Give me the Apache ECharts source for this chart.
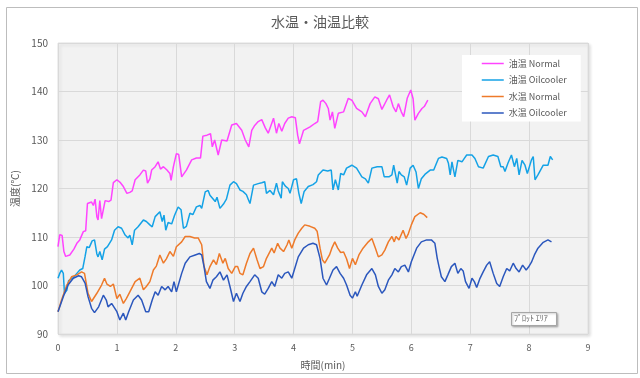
<!DOCTYPE html>
<html><head><meta charset="utf-8">
<script src="https://cdn.jsdelivr.net/npm/echarts@6/dist/echarts.min.js"></script>
<style>html,body{margin:0;padding:0;background:#fff}#c{width:640px;height:378px}</style>
</head><body><div id="c"></div>
<script>
const titleText = '水温・油温比較';
const seriesNames = ['油温 Normal', '油温 Oilcooler', '水温 Normal', '水温 Oilcooler'];
const xTicks = [0, 1, 2, 3, 4, 5, 6, 7, 8, 9];
const yTicks = [90, 100, 110, 120, 130, 140, 150];

// [time(min), temperature(℃)]
const oilNormal = [[0,108],[0.03,110.5],[0.07,110.3],[0.10,107],[0.13,106],[0.20,106.3],[0.27,107.5],[0.32,108.7],[0.37,109.4],[0.43,111.1],[0.47,111.3],[0.50,116.9],[0.57,117.2],[0.60,116.5],[0.63,117.8],[0.66,114.2],[0.68,113.5],[0.71,117.5],[0.74,113.8],[0.80,117.5],[0.86,117.3],[0.90,117.6],[0.94,121.2],[1.00,121.8],[1.06,121.2],[1.11,120.4],[1.17,119],[1.22,119.2],[1.26,119.5],[1.31,121.8],[1.39,122.8],[1.45,123.8],[1.49,123.6],[1.52,121.1],[1.56,122],[1.59,123.8],[1.65,124.5],[1.70,125.5],[1.74,124],[1.79,124.5],[1.85,123.8],[1.90,123.1],[1.92,121.7],[1.96,124.5],[2.01,127.2],[2.05,127],[2.10,122.4],[2.18,123.8],[2.27,125.9],[2.35,126.3],[2.42,126.3],[2.46,130.8],[2.53,131],[2.59,131.3],[2.62,128.6],[2.66,130],[2.72,126.9],[2.78,130],[2.87,129.8],[2.95,133.1],[3.03,133.4],[3.12,132],[3.18,130],[3.24,128.6],[3.29,132],[3.34,133],[3.40,133.8],[3.46,134.2],[3.52,132.5],[3.57,131.4],[3.66,134.5],[3.71,131.4],[3.75,133.4],[3.80,131.8],[3.85,133.4],[3.91,134.5],[3.97,134.8],[4.03,134.6],[4.07,131],[4.10,129.2],[4.17,132],[4.28,132.7],[4.36,133.4],[4.41,133.8],[4.46,137.9],[4.50,138.2],[4.55,137.5],[4.59,136.5],[4.62,134.1],[4.66,135.8],[4.70,132.4],[4.76,135.5],[4.85,135.8],[4.93,138.6],[4.99,138.2],[5.07,136.5],[5.16,135.8],[5.22,134.8],[5.30,137.5],[5.38,138.9],[5.44,138.5],[5.50,136.3],[5.53,135.9],[5.58,138.2],[5.63,139.3],[5.69,136.9],[5.74,135.8],[5.78,137.5],[5.83,135.8],[5.87,134.8],[5.93,138.6],[5.99,140.3],[6.03,138.5],[6.06,134.1],[6.12,135.5],[6.18,136.5],[6.22,136.9],[6.28,138.2]];

const oilCooler = [[0,101.5],[0.03,102.5],[0.06,103.2],[0.09,102.5],[0.11,98.4],[0.15,99],[0.18,101],[0.25,101.5],[0.32,102.5],[0.37,103.2],[0.42,103.5],[0.46,106],[0.49,108],[0.53,107.8],[0.58,109.2],[0.62,109.4],[0.66,106.5],[0.68,105.9],[0.71,107],[0.75,105.3],[0.79,107.5],[0.84,108],[0.91,109.4],[0.96,111.4],[1.02,112.1],[1.08,111.8],[1.14,110.4],[1.19,109.8],[1.22,110.4],[1.26,108.4],[1.30,111.4],[1.36,112.1],[1.45,113.5],[1.50,113.2],[1.56,112.5],[1.60,112.1],[1.65,114.2],[1.73,115.2],[1.77,113.2],[1.80,114.5],[1.83,111.4],[1.87,113],[1.93,112.7],[1.98,114.5],[2.04,116.2],[2.09,115.6],[2.13,111.8],[2.18,112.2],[2.24,114.9],[2.29,114.6],[2.35,116.2],[2.41,116.5],[2.44,115.9],[2.50,119.3],[2.55,119.6],[2.58,118.6],[2.61,119],[2.67,117.3],[2.70,118.2],[2.75,115.9],[2.81,116.8],[2.86,117.8],[2.92,120.7],[2.98,121.4],[3.03,121],[3.09,119.7],[3.14,119.4],[3.20,118.7],[3.23,117.8],[3.26,116.9],[3.32,120.7],[3.40,121],[3.46,121.2],[3.51,121.4],[3.54,119],[3.60,119.6],[3.66,118.7],[3.71,121.1],[3.74,119.5],[3.79,118],[3.81,121.4],[3.86,120.5],[3.91,120],[3.94,119],[4.00,121.8],[4.05,122],[4.09,119],[4.13,116.9],[4.18,119.4],[4.25,120.4],[4.33,120.8],[4.39,121.4],[4.42,122.8],[4.50,123.8],[4.58,123.6],[4.64,123.8],[4.67,119.7],[4.71,121.8],[4.76,119.7],[4.80,123.1],[4.85,122.8],[4.90,124.2],[4.99,124.8],[5.07,124.2],[5.16,122.4],[5.22,122],[5.27,121.1],[5.33,124.2],[5.42,124.5],[5.50,124.5],[5.54,122.4],[5.62,122.4],[5.67,122.8],[5.70,124.8],[5.73,124.5],[5.76,121.1],[5.79,123.5],[5.83,122.8],[5.88,122.4],[5.92,120.7],[5.98,124.2],[6.03,124.8],[6.08,123.4],[6.12,120],[6.17,122],[6.23,122.9],[6.32,123.8],[6.38,123.8],[6.42,125],[6.46,126.2],[6.52,126.5],[6.60,126.2],[6.63,125.2],[6.66,122.8],[6.69,125.5],[6.71,124.2],[6.74,122.4],[6.79,125.8],[6.86,125.5],[6.90,126.2],[6.94,126.9],[7.03,126.9],[7.08,126.2],[7.14,124.5],[7.22,124.2],[7.25,124.5],[7.31,126.6],[7.39,126.9],[7.47,126.6],[7.52,124.5],[7.56,124.5],[7.59,123.5],[7.64,125.2],[7.70,126.9],[7.75,124.5],[7.79,126.2],[7.83,122.8],[7.88,125.8],[7.93,124.8],[7.97,123.1],[8.04,125.9],[8.07,126.6],[8.10,121.8],[8.15,122.8],[8.24,124.8],[8.32,124.8],[8.36,126.6],[8.40,125.9]];

const waterNormal = [[0,94.6],[0.06,97],[0.15,100.1],[0.23,101.8],[0.32,102.2],[0.40,102.8],[0.45,102.5],[0.51,98.4],[0.57,96.7],[0.60,96.4],[0.66,98.4],[0.74,100.1],[0.79,101.5],[0.83,100.3],[0.89,99.8],[0.94,100.3],[1.00,97.3],[1.05,98.2],[1.11,96.3],[1.16,97.3],[1.22,98.7],[1.31,100.8],[1.39,101.5],[1.45,99.1],[1.50,99.8],[1.56,100.8],[1.62,103.2],[1.67,104],[1.73,106.3],[1.79,104.6],[1.84,105.5],[1.90,107],[1.96,106],[2.01,108],[2.10,109],[2.16,110.1],[2.24,110.1],[2.32,109.8],[2.38,109.8],[2.44,108.4],[2.48,103.9],[2.53,102.2],[2.58,103.9],[2.64,105.3],[2.69,104.3],[2.74,106.6],[2.80,104.6],[2.84,105.6],[2.89,103.5],[2.95,102.5],[3.01,103.9],[3.05,103.9],[3.09,102.5],[3.14,102.2],[3.20,104.6],[3.26,106.6],[3.32,107.7],[3.38,105.3],[3.43,103.5],[3.49,103.9],[3.54,105.6],[3.63,107.7],[3.67,106.7],[3.73,108.7],[3.77,107.7],[3.83,107],[3.89,108.4],[3.92,109.4],[3.97,107.7],[4.02,109.4],[4.08,110.8],[4.14,111.8],[4.19,112.5],[4.28,112.2],[4.36,111.8],[4.40,111.2],[4.45,107.7],[4.49,105.3],[4.53,104.6],[4.61,106.3],[4.65,107.7],[4.70,109],[4.75,107.7],[4.80,106.8],[4.85,106.9],[4.90,105.5],[4.95,103.5],[5.00,105.6],[5.05,104.3],[5.11,106.3],[5.18,107.7],[5.27,109],[5.33,109.7],[5.39,107.7],[5.44,105.9],[5.50,106.3],[5.55,107.3],[5.61,109],[5.67,110.1],[5.71,109],[5.74,110.1],[5.79,109.4],[5.86,111.4],[5.91,109.7],[5.95,110.7],[6.00,112.5],[6.06,114.2],[6.15,115],[6.21,114.7],[6.27,114]];

const waterCooler = [[0,94.6],[0.09,97.7],[0.17,100.1],[0.26,101.5],[0.35,102],[0.40,101.8],[0.46,100.5],[0.51,97.7],[0.57,95.3],[0.62,94.4],[0.69,95.6],[0.77,98],[0.82,97],[0.85,95.6],[0.91,96.3],[1.00,94.6],[1.05,92.9],[1.11,94.3],[1.15,92.9],[1.20,94.6],[1.28,97],[1.36,98],[1.42,97],[1.49,94.6],[1.54,94.6],[1.60,97],[1.65,98.7],[1.70,98],[1.76,99.8],[1.82,99.1],[1.87,99.8],[1.93,98.7],[1.97,100.8],[2.01,98.7],[2.10,102.5],[2.16,104.6],[2.24,105.9],[2.33,106.3],[2.40,106.6],[2.44,106.3],[2.48,103.9],[2.52,100.8],[2.58,99.4],[2.63,101.1],[2.69,101.8],[2.75,102.8],[2.81,101.1],[2.87,102.2],[2.92,99.8],[2.98,96.7],[3.03,98.4],[3.09,96.7],[3.14,98.4],[3.20,99.8],[3.26,100.8],[3.34,102.2],[3.40,101.5],[3.46,98.7],[3.51,98.2],[3.57,99.4],[3.63,100.8],[3.68,99.8],[3.74,102.2],[3.80,101.5],[3.85,102.5],[3.91,102.8],[3.97,101.5],[4.02,103.5],[4.08,105.9],[4.17,107.7],[4.25,108.4],[4.33,108.7],[4.39,108.4],[4.45,105.6],[4.50,101.5],[4.56,100.1],[4.61,101.5],[4.67,103.2],[4.73,103.9],[4.79,102.5],[4.85,101.5],[4.90,100.1],[4.96,98],[5.00,97.4],[5.05,98.7],[5.08,97.8],[5.16,100.1],[5.24,102.2],[5.33,103.5],[5.39,102.2],[5.44,99.8],[5.50,98.4],[5.55,99.1],[5.61,101.1],[5.67,102.2],[5.72,103.5],[5.78,102.8],[5.83,103.9],[5.89,104.2],[5.95,102.8],[6.00,104.9],[6.09,107.7],[6.17,109],[6.26,109.4],[6.34,109.4],[6.40,108.7],[6.44,105.6],[6.47,103.9],[6.51,101.8],[6.57,100.8],[6.62,102.2],[6.68,103.9],[6.74,104.6],[6.79,102.5],[6.84,103.5],[6.88,103],[6.92,100.8],[6.98,99.4],[7.03,101.5],[7.07,100.8],[7.11,99.6],[7.16,101.3],[7.22,102.8],[7.28,104.2],[7.33,104.9],[7.39,102.5],[7.45,100.4],[7.50,99.8],[7.56,101.8],[7.62,103.5],[7.67,103],[7.73,104.6],[7.78,103.5],[7.83,102.8],[7.89,104.2],[7.95,103.2],[7.99,103.8],[8.04,104.8],[8.09,106.3],[8.15,107.7],[8.24,108.9],[8.32,109.4],[8.38,109]];

const seriesData = [oilNormal, oilCooler, waterNormal, waterCooler];
const colors = ['#ff44ff', '#14a2e6', '#ee7a2a', '#2b57bd'];
const FONT = '"Noto Sans CJK JP", "Noto Sans", sans-serif';
const TXT = '#595959';

const chart = echarts.init(document.getElementById('c'), null, {renderer: 'canvas'});
chart.setOption({
  animation: false,
  backgroundColor: '#ffffff',
  textStyle: {fontFamily: FONT},
  title: {
    text: titleText, left: 'center', top: 10,
    textStyle: {fontSize: 14, fontWeight: 'normal', color: TXT, fontFamily: FONT}
  },
  grid: {
    left: 58, right: 52, top: 43, bottom: 44,
    show: true, backgroundColor: '#f2f2f2', borderColor: '#e3e3e3', borderWidth: 1,
    shadowColor: 'rgba(0,0,0,0.12)', shadowBlur: 3, shadowOffsetX: 2, shadowOffsetY: 2
  },
  legend: {
    orient: 'vertical', left: 462, top: 55,
    backgroundColor: '#ffffff',
    padding: [4, 14, 4, 19],
    itemWidth: 22, itemHeight: 10, itemGap: 7.5,
    itemStyle: {opacity: 0},
    lineStyle: {width: 1.5},
    data: seriesNames,
    textStyle: {fontSize: 9, color: TXT, fontFamily: FONT}
  },
  xAxis: {
    type: 'value', min: xTicks[0], max: xTicks[xTicks.length - 1], interval: 1,
    name: '時間(min)', nameLocation: 'middle', nameGap: 26,
    nameTextStyle: {fontSize: 10, color: TXT},
    axisLine: {show: false}, axisTick: {show: false},
    axisLabel: {fontSize: 9, color: TXT, margin: 9},
    splitLine: {show: true, lineStyle: {color: '#d9d9d9', width: 1}}
  },
  yAxis: {
    type: 'value', min: yTicks[0], max: yTicks[yTicks.length - 1], interval: 10,
    name: '温度(℃)', nameLocation: 'middle', nameGap: 34, nameRotate: 90,
    nameTextStyle: {fontSize: 10, color: TXT},
    axisLine: {show: false}, axisTick: {show: false},
    axisLabel: {fontSize: 10, color: TXT, margin: 10},
    splitLine: {show: true, lineStyle: {color: '#d9d9d9', width: 1}}
  },
  series: seriesNames.map((n, i) => ({
    name: n, type: 'line', data: seriesData[i], symbol: 'none', smooth: false,
    color: colors[i],
    lineStyle: {width: 1.5, color: colors[i]}
  })),
  graphic: [
    {type: 'rect', left: 4, top: 5, shape: {width: 631, height: 366}, silent: true, z: -10,
     style: {fill: 'none', stroke: '#bdbdbd', lineWidth: 1}},
    {type: 'rect', left: 511, top: 312, shape: {width: 45, height: 13},
     style: {fill: '#ffffff', stroke: '#a6a6a6', lineWidth: 1, shadowColor: 'rgba(0,0,0,0.25)', shadowBlur: 2, shadowOffsetX: 1, shadowOffsetY: 1}, z: 100},
    {type: 'text', left: 514, top: 314, z: 101,
     style: {text: 'ﾌﾟﾛｯﾄ ｴﾘｱ', fontSize: 8, fill: '#595959', fontFamily: FONT}}
  ]
});
</script></body></html>
